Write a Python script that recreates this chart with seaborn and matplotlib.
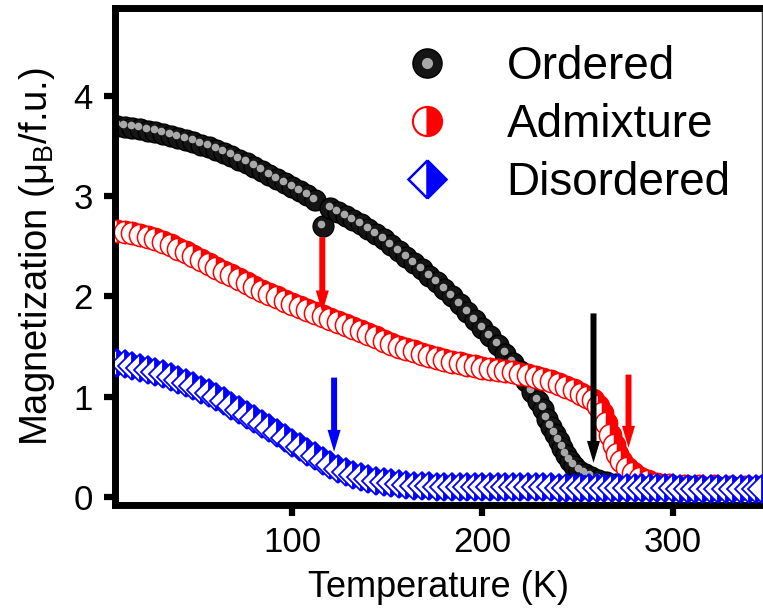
import matplotlib
matplotlib.use("Agg")
import matplotlib.pyplot as plt
import seaborn as sns
from matplotlib.lines import Line2D
from matplotlib.legend_handler import HandlerTuple
from matplotlib.transforms import offset_copy

# data: temperature (K) and magnetization (muB/f.u.)
temp_ordered = [8, 12, 16, 20, 24, 28, 32, 36, 40, 44, 48, 52, 56, 60, 64, 68, 72, 76, 80, 84,
                88, 92, 96, 100, 104, 108, 112, 116, 120, 124, 128, 132, 136, 140, 144, 148, 152,
                156, 160, 164, 168, 172, 176, 180, 184, 188, 192, 196, 200, 204, 208, 212, 216,
                220, 223, 226, 229, 232, 234, 236, 238, 240, 242, 244, 246, 248, 251, 254, 257,
                261, 265, 270, 276, 284, 292, 300, 308, 316, 324, 332, 340, 346]
mag_ordered = [3.70, 3.69, 3.68, 3.67, 3.65, 3.64, 3.62, 3.60, 3.58, 3.56, 3.54, 3.51, 3.49,
               3.46, 3.43, 3.40, 3.36, 3.33, 3.29, 3.25, 3.21, 3.17, 3.13, 3.09, 3.05, 3.01,
               2.96, 2.70, 2.88, 2.84, 2.80, 2.76, 2.72, 2.67, 2.62, 2.57, 2.51, 2.45, 2.39,
               2.33, 2.27, 2.20, 2.14, 2.07, 2.00, 1.92, 1.84, 1.76, 1.68, 1.60, 1.52, 1.43,
               1.34, 1.26, 1.16, 1.05, 0.96, 0.88, 0.78, 0.70, 0.63, 0.56, 0.49, 0.42, 0.36,
               0.31, 0.26, 0.23, 0.20, 0.17, 0.15, 0.13, 0.12, 0.11, 0.11, 0.11, 0.11, 0.10,
               0.10, 0.10, 0.10, 0.10]

temp_admix = [8, 12, 16, 20, 24, 28, 32, 36, 40, 44, 48, 52, 56, 60, 64, 68, 72, 76, 80, 84,
              88, 92, 96, 100, 104, 108, 112, 116, 120, 124, 128, 132, 136, 140, 144, 148, 152,
              156, 160, 164, 168, 172, 176, 180, 184, 188, 192, 196, 200, 204, 208, 212, 216,
              220, 224, 228, 232, 236, 240, 244, 248, 252, 255, 258, 261, 263, 265, 267, 269,
              271, 273, 276, 279, 283, 287, 292, 298, 306, 314, 322, 330, 338, 346]
mag_admix = [2.65, 2.64, 2.63, 2.61, 2.59, 2.57, 2.54, 2.51, 2.47, 2.44, 2.40, 2.36, 2.32,
             2.28, 2.24, 2.21, 2.17, 2.13, 2.09, 2.05, 2.02, 1.99, 1.95, 1.92, 1.89, 1.86,
             1.83, 1.80, 1.77, 1.74, 1.71, 1.68, 1.65, 1.62, 1.59, 1.56, 1.53, 1.50, 1.48,
             1.46, 1.43, 1.41, 1.39, 1.37, 1.35, 1.34, 1.32, 1.31, 1.29, 1.28, 1.27, 1.26,
             1.25, 1.23, 1.22, 1.20, 1.18, 1.16, 1.13, 1.10, 1.07, 1.03, 1.00, 0.97, 0.91,
             0.84, 0.74, 0.62, 0.52, 0.43, 0.36, 0.29, 0.24, 0.19, 0.16, 0.13, 0.12, 0.11,
             0.11, 0.11, 0.10, 0.10, 0.10]

temp_disorder = [8, 12, 16, 20, 24, 28, 32, 36, 40, 44, 48, 52, 56, 60, 64, 68, 72, 76, 80,
                 84, 88, 92, 96, 100, 104, 108, 112, 116, 120, 124, 128, 132, 136, 140, 144,
                 148, 152, 156, 160, 164, 168, 172, 176, 180, 184, 188, 192, 196, 200, 204,
                 208, 212, 216, 220, 224, 228, 232, 236, 240, 244, 248, 252, 256, 260, 264,
                 268, 272, 276, 280, 284, 288, 292, 296, 300, 304, 308, 312, 316, 320, 324,
                 328, 332, 336, 340, 344, 347]
mag_disorder = [1.34, 1.33, 1.31, 1.29, 1.27, 1.25, 1.23, 1.20, 1.17, 1.14, 1.11, 1.07, 1.04,
                1.00, 0.96, 0.91, 0.87, 0.82, 0.78, 0.73, 0.69, 0.64, 0.59, 0.54, 0.50, 0.45,
                0.41, 0.36, 0.32, 0.28, 0.25, 0.22, 0.20, 0.18, 0.16, 0.15, 0.14, 0.13, 0.12,
                0.11, 0.11, 0.11, 0.10, 0.10, 0.10, 0.10, 0.10, 0.10, 0.10, 0.10, 0.10, 0.10,
                0.10, 0.10, 0.10, 0.10, 0.10, 0.10, 0.09, 0.09, 0.09, 0.09, 0.09, 0.09, 0.09,
                0.09, 0.09, 0.09, 0.09, 0.09, 0.09, 0.09, 0.09, 0.09, 0.08, 0.08, 0.08, 0.08,
                0.08, 0.08, 0.08, 0.08, 0.08, 0.08, 0.08, 0.08]

# arrows: (temperature, start, tip, colour)
arrow_T = [115.8, 122.0, 258.4, 276.8]
arrow_from = [2.59, 1.19, 1.83, 1.22]
arrow_to = [1.84, 0.45, 0.34, 0.49]
arrow_col = ["#ff0000", "#0000ff", "black", "#ff0000"]

labels = ["Ordered", "Admixture", "Disordered"]

sns.set_style("ticks")
plt.rcParams["font.family"] = ["Liberation Sans", "DejaVu Sans"]
plt.rcParams["mathtext.fontset"] = "custom"
plt.rcParams["mathtext.rm"] = "Liberation Sans"
plt.rcParams["mathtext.it"] = "Liberation Sans:italic"
plt.rcParams["text.color"] = "black"
plt.rcParams["axes.labelcolor"] = "black"

fig = plt.figure(figsize=(7.63, 6.14), dpi=100)
ax = fig.add_axes([115 / 763, 1 - 505 / 614, 647 / 763, 497 / 614])

# ordered: dark beads with a grey highlight
sns.lineplot(x=temp_ordered, y=mag_ordered, ax=ax, marker="o", linestyle="", markersize=15,
             markerfacecolor="#151515", markeredgecolor="black", markeredgewidth=1.0,
             color="black", zorder=2)
hl = offset_copy(ax.transData, fig=fig, x=-1.2, y=1.8, units="points")
sns.lineplot(x=temp_ordered, y=mag_ordered, ax=ax, marker="o", linestyle="", markersize=5.5,
             markerfacecolor="#a8a8a8", markeredgecolor="#a8a8a8", markeredgewidth=0,
             color="#a8a8a8", transform=hl, zorder=2.1)

sns.lineplot(x=temp_admix, y=mag_admix, ax=ax, marker="o", linestyle="", markersize=16,
             fillstyle="right", markerfacecolor="#ff0000", markerfacecoloralt="white",
             markeredgecolor="#ff0000", markeredgewidth=1.1, color="#ff0000", zorder=3)

sns.lineplot(x=temp_disorder, y=mag_disorder, ax=ax, marker="D", linestyle="", markersize=14,
             fillstyle="right", markerfacecolor="#0000ff", markerfacecoloralt="white",
             markeredgecolor="#0000ff", markeredgewidth=1.3, color="#0000ff", zorder=4)

for t, y0, y1, c in zip(arrow_T, arrow_from, arrow_to, arrow_col):
    ax.annotate("", xy=(t, y1), xytext=(t, y0),
                arrowprops=dict(arrowstyle="simple,head_length=1.58,head_width=0.94,tail_width=0.43",
                                mutation_scale=10, color=c, lw=0, shrinkA=0, shrinkB=0),
                zorder=6)

ax.set_xlim(6.8, 347)
ax.set_ylim(-0.08, 4.875)
ax.set_xticks([100, 200, 300])
ax.set_yticks([0, 1, 2, 3, 4])

for side in ["left", "bottom", "top"]:
    ax.spines[side].set_linewidth(5)
    ax.spines[side].set_color("black")
ax.spines["right"].set_linewidth(1)
ax.spines["right"].set_color("#444444")

ax.tick_params(axis="both", direction="out", length=8, width=4.5, labelsize=25,
               colors="black", top=False, right=False)
ax.tick_params(axis="x", pad=7)
ax.tick_params(axis="y", pad=8)

ax.set_xlabel("Temperature (K)", fontsize=26, labelpad=8, color="black")
ax.set_ylabel("Magnetization (μ$_{\\mathrm{B}}$/f.u.)", fontsize=27.5, labelpad=12, color="black")

# legend
h_ord = (Line2D([], [], marker="o", linestyle="", markersize=21, markerfacecolor="#151515",
                markeredgecolor="black"),
         Line2D([], [], marker="o", linestyle="", markersize=8, markerfacecolor="#a8a8a8",
                markeredgewidth=0))
h_adm = Line2D([], [], marker="o", linestyle="", markersize=21, fillstyle="right",
               markerfacecolor="#ff0000", markerfacecoloralt="white",
               markeredgecolor="#ff0000", markeredgewidth=1.5)
h_dis = Line2D([], [], marker="D", linestyle="", markersize=19, fillstyle="right",
               markerfacecolor="#0000ff", markerfacecoloralt="white",
               markeredgecolor="#0000ff", markeredgewidth=1.8)
leg = ax.legend([h_ord, h_adm, h_dis], labels, loc="center left",
                bbox_to_anchor=(404 / 763, 1 - 125 / 614), bbox_transform=fig.transFigure,
                frameon=False, fontsize=33, handlelength=1.0, handletextpad=1.24,
                labelspacing=0.3, borderpad=0, borderaxespad=0, labelcolor="black",
                handler_map={tuple: HandlerTuple(ndivide=1, pad=0)})
leg.set_zorder(10)

fig.savefig("out.png", dpi=100)
